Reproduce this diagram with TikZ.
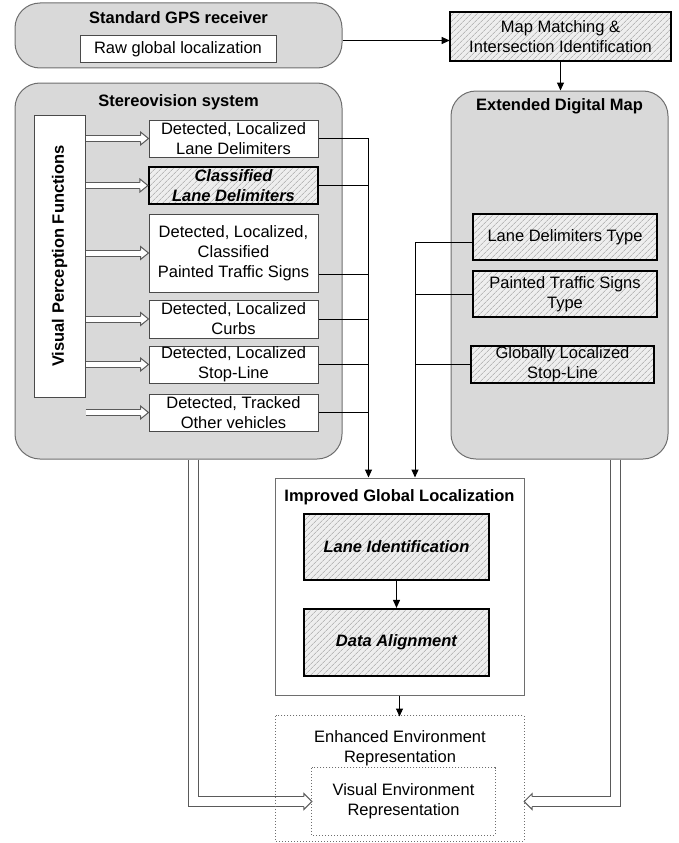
\documentclass[tikz,border=0pt]{standalone}
\usepackage{fontspec}
\setmainfont{Liberation Sans}
\usetikzlibrary{arrows.meta,patterns.meta,calc}
\definecolor{panel}{HTML}{D9D9D9}
\definecolor{panelline}{HTML}{6E6E6E}
\definecolor{boxline}{HTML}{4A4A4A}
\definecolor{hatchbg}{HTML}{EEEEEE}
\definecolor{hatchline}{HTML}{9C9C9C}
\definecolor{hollowline}{HTML}{5A5A5A}
\newcommand\dfont{\fontsize{16.5}{20}\selectfont}
\tikzset{
  pics/openhead/.style n args={3}{code={
    \filldraw[fill=white, draw=hollowline, line width=1pt, line join=miter]
      (-#3,#1) -- (-#3,#2) -- (0,0) -- (-#3,-#2) -- (-#3,-#1);
  }}
}
\begin{document}
\begin{tikzpicture}[x=1pt, y=-1pt, font=\dfont,
  panelbox/.style={draw=panelline, fill=panel, line width=1pt, rounded corners=25pt, inner sep=0pt},
  itembox/.style={draw=boxline, fill=white, line width=1pt, inner sep=0pt, align=center, minimum width=169pt},
  hatchbox/.style={draw=black, line width=2.2pt, inner sep=0pt, align=center,
    preaction={fill=hatchbg},
    pattern={Lines[angle=45, distance=4pt, line width=0.6pt]}, pattern color=hatchline},
  plainbox/.style={draw=panelline, fill=white, line width=1pt, inner sep=0pt},
  dotbox/.style={draw=panelline, dotted, line width=1pt, inner sep=0pt},
  titletext/.style={font=\dfont\bfseries, inner sep=0pt},
  emph/.style={font=\dfont\bfseries\itshape},
  arr/.style={draw=black, line width=1pt, -{Triangle[length=8pt, width=7pt]}},
  link/.style={draw=black, line width=1pt},
  hollowshaft/.style={draw=hollowline, double=white, double distance=#1, line width=1pt, line join=miter},
]
\useasboundingbox (0,0) rectangle (679,843);

% ---- GPS receiver ----
\node[panelbox, minimum width=327pt, minimum height=65pt] (gps) at (178.5,35.5) {};
\node[titletext] (gpstitle) at (178.5,17.5) {Standard GPS receiver};
\node[itembox, minimum width=196pt, minimum height=27pt] (raw) at (178,49.5) {Raw global localization};

% ---- map matching ----
\node[hatchbox, minimum width=221pt, minimum height=49pt] (map) at (560.5,36.5)
  {Map Matching \&\\Intersection Identification};

% ---- stereovision system ----
\node[panelbox, minimum width=327pt, minimum height=376pt] (sv) at (178.5,271) {};
\node[titletext] (svtitle) at (178.5,102) {Stereovision system};
\node[plainbox, draw=boxline, minimum width=51pt, minimum height=282pt] (vpf) at (59.5,256) {};
\node[titletext, rotate=90] (vpftext) at (vpf.center) {Visual Perception Functions};

\node[itembox, minimum height=37pt] (b1) at (233.5,138.5) {Detected, Localized\\Lane Delimiters};
\node[hatchbox, emph, minimum width=169pt, minimum height=37pt] (b2) at (233.5,185.5) {Classified\\Lane Delimiters};
\node[itembox, minimum height=78pt] (b3) at (233.5,253) {Detected, Localized,\\Classified\\Painted Traffic Signs};
\node[itembox, minimum height=38pt] (b4) at (233.5,319) {Detected, Localized\\Curbs};
\node[itembox, minimum height=37pt] (b5) at (233.5,364.5) {Detected, Localized\\Stop-Line};
\node[itembox, minimum height=37pt] (b6) at (233.5,412.5) {Detected, Tracked\\Other vehicles};

% ---- extended digital map ----
\node[panelbox, minimum width=217pt, minimum height=368pt] (edm) at (559.5,275) {};
\node[titletext] (edmtitle) at (559.5,106) {Extended Digital Map};
\node[hatchbox, line width=1.8pt, minimum width=184pt, minimum height=46pt] (r1) at (565,237) {Lane Delimiters Type};
\node[hatchbox, line width=1.8pt, minimum width=184pt, minimum height=46pt] (r2) at (565,294) {Painted Traffic Signs\\Type};
\node[hatchbox, line width=1.8pt, minimum width=183pt, minimum height=37pt] (r3) at (562.5,364.5) {Globally Localized\\Stop-Line};

% ---- improved global localization ----
\node[plainbox, minimum width=249pt, minimum height=217pt] (igl) at (399.5,586.5) {};
\node[titletext] (igltitle) at (399.5,497) {Improved Global Localization};
\node[hatchbox, emph, minimum width=185pt, minimum height=66pt] (li) at (396.5,547) {Lane Identification};
\node[hatchbox, emph, minimum width=185pt, minimum height=67pt] (da) at (396.5,642.5) {Data Alignment};

% ---- GPS to map, map to digital map ----
\coordinate (gpsout) at ($(gps.east)+(0,5)$);
\draw[arr] (gpsout) -- (gpsout -| map.west);
\draw[arr] (map.south) -- (map.south |- edm.north);

% ---- perception outputs: hollow arrows ----
\foreach \b in {b1,b2,b3,b4,b5,b6}{
  \draw[hollowshaft=5pt] (vpf.east |- \b.west) -- ([xshift=-7.5pt]\b.west);
  \pic at (\b.west) {openhead={3}{6.5}{8}};
}

% ---- left bus into the localization block ----
\coordinate (busL) at (368.5,0);
\coordinate (b3out) at ($(b3.south east)+(0,-18)$);
\draw[arr] (b1.east) -- (b1.east -| busL) -- (busL |- igl.north);
\draw[link] (b2.east) -- (b2.east -| busL);
\draw[link] (b3out) -- (b3out -| busL);
\draw[link] (b4.east) -- (b4.east -| busL);
\draw[link] (b5.east) -- (b5.east -| busL);
\draw[link] (b6.east) -- (b6.east -| busL);

% ---- right bus from the map layers ----
\coordinate (busR) at (415,0);
\coordinate (r1out) at ($(r1.west)+(0,5)$);
\draw[arr] (r1out) -- (r1out -| busR) -- (busR |- igl.north);
\draw[link] (r2.west) -- (r2.west -| busR);
\draw[link] (r3.west) -- (r3.west -| busR);

% ---- inside the localization block ----
\draw[arr] (li.south) -- (da.north);
\draw[arr] (igl.south) -- ++(0,21) coordinate (eertop);

% ---- environment representation ----
\node[inner sep=0pt, minimum width=248pt, minimum height=125pt] (eer) at (400,778.5) {};
\node[inner sep=0pt, minimum width=183pt, minimum height=67pt] (ver) at (403.5,801.5) {};

\coordinate (lx) at (193,0);
\draw[hollowshaft=9pt] (sv.south -| lx) -- (lx |- ver.west) -- ([xshift=-7.5pt]ver.west);
\pic at (ver.west) {openhead={5}{8}{8}};

\coordinate (rx) at (615.5,0);
\coordinate (rtip) at (eer.east |- ver.east);
\draw[hollowshaft=9pt] (edm.south -| rx) -- (rx |- rtip) -- ([xshift=7.5pt]rtip);
\pic[rotate=180] at (rtip) {openhead={5}{8}{8}};

\draw[dotbox] (eer.north west) rectangle (eer.south east);
\draw[dotbox] (ver.north west) rectangle (ver.south east);
\node[align=center, inner sep=0pt] (eertext) at (400,748) {Enhanced Environment\\Representation};
\node[align=center, inner sep=0pt] (vertext) at (ver.center) {Visual Environment\\Representation};
\end{tikzpicture}
\end{document}
